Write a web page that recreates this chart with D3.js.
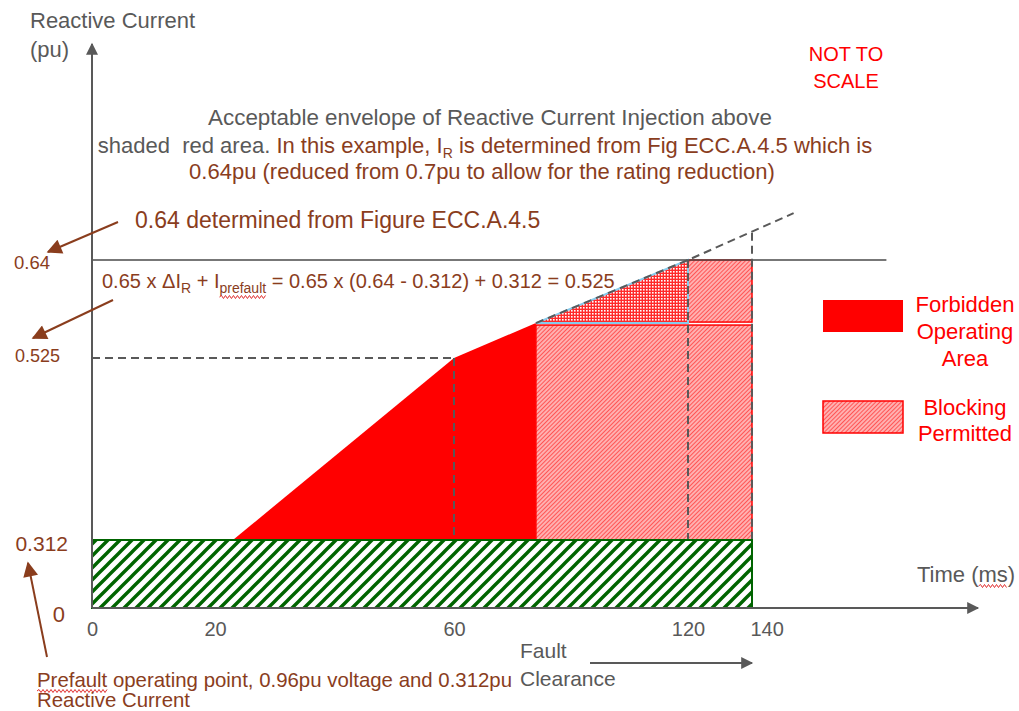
<!DOCTYPE html>
<html>
<head>
<meta charset="utf-8">
<script src="https://cdn.jsdelivr.net/npm/d3@7"></script>
<style>
  html, body { margin: 0; padding: 0; background: #fff; }
  svg { display: block; font-family: "Liberation Sans", Arial, sans-serif; }
</style>
</head>
<body>
<svg id="chart" width="1019" height="711"></svg>
<script>
// ---------------- DATA ----------------
const xTicks = [0, 20, 60, 120, 140];            // time (ms) tick labels
const yTicks = [0, 0.312, 0.525, 0.64];           // reactive current (pu) tick labels

// Forbidden operating area polygon (time ms, current pu)
const forbiddenTime    = [23, 60, 81, 81];
const forbiddenCurrent = [0.312, 0.525, 0.566, 0.312];

// Blocking permitted areas
const blockLowerTime    = [81, 140];
const blockLowerCurrent = [0.312, 0.566];
const blockUpperTime    = [120, 140];
const blockUpperCurrent = [0.566, 0.64];
const blockTriTime      = [81, 120, 120];
const blockTriCurrent   = [0.566, 0.64, 0.566];

// Prefault band
const prefaultTime    = [0, 140];
const prefaultCurrent = [0, 0.312];

// Envelope (dashed extension line)
const envelopeTime    = [81, 120, 153];
const envelopeCurrent = [0.566, 0.64, 0.695];

// Vertical guide lines (dashed)
const guideTime   = [60, 120, 140];
const guideTop    = [0.525, 0.64, 0.672];
const guideBottom = 0.312;

// Horizontal 0.525 guide and 0.64 rating line
const guide525Time = [0, 60];
const ratingLevel  = 0.64;
const ratingTime   = [0, 182];

// ---------------- LAYOUT ----------------
const W = 1019, H = 711;
const xRangeStops = [92, 215, 454, 688, 752];
const yRangeStops = [608, 540, 358, 260];

const x = d3.scaleLinear().domain(xTicks).range(xRangeStops);
const y = d3.scaleLinear().domain(yTicks).range(yRangeStops);

const BROWN = "#8a3d1d", GRAY = "#595959", RED = "#ff0000", GREEN = "#006400";
const FONT = 22;

const svg = d3.select("#chart");
const defs = svg.append("defs");

// pink hatch
const ph = defs.append("pattern").attr("id", "pinkHatch").attr("patternUnits", "userSpaceOnUse")
  .attr("width", 3).attr("height", 3).attr("patternTransform", "rotate(45)");
ph.append("rect").attr("width", 3).attr("height", 3).attr("fill", "#ffb0b0");
ph.append("line").attr("x1", 0).attr("y1", 0).attr("x2", 0).attr("y2", 3)
  .attr("stroke", "#ff2e2e").attr("stroke-width", 1.4);

// green hatch (unrotated tile for crisp lines)
const GS = 12;
const gh = defs.append("pattern").attr("id", "greenHatch").attr("patternUnits", "userSpaceOnUse")
  .attr("width", GS).attr("height", GS);
gh.append("rect").attr("width", GS).attr("height", GS).attr("fill", "#fff");
gh.append("path")
  .attr("d", `M-3,3 L3,-3 M0,${GS} L${GS},0 M${GS - 3},${GS + 3} L${GS + 3},${GS - 3}`)
  .attr("stroke", GREEN).attr("stroke-width", 3.4);

// dotted
const dp = defs.append("pattern").attr("id", "dotted").attr("patternUnits", "userSpaceOnUse")
  .attr("width", 3).attr("height", 3);
dp.append("rect").attr("width", 3).attr("height", 3).attr("fill", "#ff2a2a");
dp.append("rect").attr("x", 1).attr("y", 1).attr("width", 1.6).attr("height", 1.6).attr("fill", "#ffffff");

// arrow markers
function marker(id, color, w, h) {
  defs.append("marker").attr("id", id).attr("viewBox", "0 0 10 10")
    .attr("refX", 9).attr("refY", 5).attr("markerWidth", w).attr("markerHeight", h)
    .attr("markerUnits", "userSpaceOnUse").attr("orient", "auto")
    .append("path").attr("d", "M0,0 L10,5 L0,10 Z").attr("fill", color);
}
marker("arrGray", GRAY, 16, 12);
marker("arrBrown", BROWN, 18, 15);

// ---------------- MARKS ----------------
const pts = (ts, cs) => ts.map((t, i) => [x(t), y(cs[i])]);

// Forbidden polygon
svg.append("polygon").attr("points", pts(forbiddenTime, forbiddenCurrent).join(" "))
  .attr("fill", RED);

// Blocking lower rect
svg.append("rect")
  .attr("x", x(blockLowerTime[0])).attr("y", y(blockLowerCurrent[1]) + 2)
  .attr("width", x(blockLowerTime[1]) - x(blockLowerTime[0]))
  .attr("height", y(blockLowerCurrent[0]) - y(blockLowerCurrent[1]) - 2)
  .attr("fill", "url(#pinkHatch)").attr("stroke", RED).attr("stroke-width", 1.5);

// Blocking upper rect
svg.append("rect")
  .attr("x", x(blockUpperTime[0])).attr("y", y(blockUpperCurrent[1]))
  .attr("width", x(blockUpperTime[1]) - x(blockUpperTime[0]))
  .attr("height", y(blockUpperCurrent[0]) - y(blockUpperCurrent[1]) - 1)
  .attr("fill", "url(#pinkHatch)").attr("stroke", RED).attr("stroke-width", 1.5);

// Blocking triangle
svg.append("polygon").attr("points", pts(blockTriTime, blockTriCurrent).join(" "))
  .attr("fill", "url(#dotted)").attr("stroke", "#86cbec").attr("stroke-width", 2);

// Rating line 0.64
svg.append("line").attr("x1", x(ratingTime[0])).attr("x2", x(ratingTime[1]))
  .attr("y1", y(ratingLevel)).attr("y2", y(ratingLevel))
  .attr("stroke", "#4a4a4a").attr("stroke-width", 1.5);

// dashed guides
const dashStyle = sel => sel.attr("stroke", GRAY).attr("stroke-width", 2).attr("stroke-dasharray", "8,5").attr("fill", "none");
svg.append("path").attr("d", d3.line()(pts(envelopeTime, envelopeCurrent))).call(dashStyle);
guideTime.forEach((t, i) => {
  svg.append("line").attr("x1", x(t)).attr("x2", x(t))
    .attr("y1", y(guideTop[i])).attr("y2", y(guideBottom)).call(dashStyle);
});
svg.append("line").attr("x1", x(guide525Time[0])).attr("x2", x(guide525Time[1]))
  .attr("y1", y(0.525)).attr("y2", y(0.525)).call(dashStyle);

// Prefault band
svg.append("rect")
  .attr("x", x(prefaultTime[0])).attr("y", y(prefaultCurrent[1]))
  .attr("width", x(prefaultTime[1]) - x(prefaultTime[0]))
  .attr("height", y(prefaultCurrent[0]) - y(prefaultCurrent[1]))
  .attr("fill", "url(#greenHatch)").attr("stroke", GREEN).attr("stroke-width", 2);

// Axes lines with arrows
svg.append("line").attr("x1", x(0)).attr("y1", y(0)).attr("x2", 978).attr("y2", y(0))
  .attr("stroke", GRAY).attr("stroke-width", 2).attr("marker-end", "url(#arrGray)");
svg.append("line").attr("x1", x(0)).attr("y1", y(0)).attr("x2", x(0)).attr("y2", 44)
  .attr("stroke", GRAY).attr("stroke-width", 2).attr("marker-end", "url(#arrGray)");

// X axis tick labels
const xAxis = svg.append("g").attr("transform", `translate(0,${y(0)})`)
  .call(d3.axisBottom(x).tickValues(xTicks).tickSize(0).tickPadding(14).tickFormat(d3.format("d")));
xAxis.select(".domain").remove();
xAxis.selectAll("text").attr("font-size", 20).attr("fill", GRAY).attr("font-family", "Liberation Sans, Arial, sans-serif");
xAxis.selectAll(".tick").filter(d => d === 140).select("text").attr("text-anchor", "start").attr("dx", -2);

// Y axis tick labels (scattered positions as in reference)
const yLabelX = { 0: 65, 0.312: 68, 0.525: 60, 0.64: 50 };
const yLabelSize = { 0: 22, 0.312: 21, 0.525: 18, 0.64: 18.5 };
const yLabelDy = { 0: 14, 0.312: 11, 0.525: 4, 0.64: 9 };
const yAxis = svg.append("g")
  .call(d3.axisLeft(y).tickValues(yTicks).tickSize(0).tickFormat(d => d === 0 ? "0" : String(d)));
yAxis.select(".domain").remove();
yAxis.selectAll(".tick").attr("transform", d => `translate(${yLabelX[d]},${y(d)})`);
yAxis.selectAll("text").attr("x", 0).attr("dy", d => yLabelDy[d])
  .attr("font-size", d => yLabelSize[d]).attr("fill", BROWN)
  .attr("font-family", "Liberation Sans, Arial, sans-serif").attr("text-anchor", "end");

// ---------------- TEXT ----------------
function txt(s, px, py, opts = {}) {
  return svg.append("text").attr("x", px).attr("y", py)
    .attr("font-size", opts.size || FONT).attr("fill", opts.color || GRAY)
    .attr("text-anchor", opts.anchor || "start").style("white-space", "pre").text(s);
}
function squiggle(textSel, i0, i1, off = 4) {
  const n = textSel.node();
  const a = n.getStartPositionOfChar(i0), b = n.getEndPositionOfChar(i1);
  const yy = a.y + off;
  let d = `M${a.x},${yy}`;
  let up = true;
  for (let xx = a.x + 2; xx <= b.x; xx += 2) { d += ` L${xx},${yy + (up ? -1.5 : 1.5)}`; up = !up; }
  svg.append("path").attr("d", d).attr("fill", "none").attr("stroke", "#e03030").attr("stroke-width", 1);
}

txt("Reactive Current", 30, 28);
txt("(pu)", 30, 57);

txt("NOT TO", 846, 61, { color: RED, anchor: "middle", size: 20 });
txt("SCALE", 846, 88, { color: RED, anchor: "middle", size: 20 });

txt("Acceptable envelope of Reactive Current Injection above", 490, 125, { anchor: "middle", size: 22.4 });
const l2 = svg.append("text").attr("x", 485).attr("y", 153).attr("font-size", FONT)
  .attr("text-anchor", "middle").style("white-space", "pre");
l2.append("tspan").attr("fill", GRAY).text("shaded  red area. ");
l2.append("tspan").attr("fill", BROWN).text("In this example, I");
l2.append("tspan").attr("fill", BROWN).attr("font-size", 14).attr("dy", 5).text("R");
l2.append("tspan").attr("fill", BROWN).attr("dy", -5).text(" is determined from Fig ECC.A.4.5 which is");
txt("0.64pu (reduced from 0.7pu to allow for the rating reduction)", 482, 179, { anchor: "middle", color: BROWN });

txt("0.64 determined from Figure ECC.A.4.5", 135, 228, { color: BROWN, size: 23 });

const f = svg.append("text").attr("x", 102).attr("y", 288).attr("font-size", 20).attr("fill", BROWN)
  .style("white-space", "pre");
f.append("tspan").text("0.65 x \u0394I");
f.append("tspan").attr("font-size", 14).attr("dy", 5).text("R");
f.append("tspan").attr("dy", -5).text(" + I");
f.append("tspan").attr("font-size", 14).attr("dy", 5).text("prefault");
f.append("tspan").attr("dy", -5).text(" = 0.65 x (0.64 - 0.312) + 0.312 = 0.525");
squiggle(f, 14, 21, 4);

const tm = txt("Time (ms)", 917, 582, { size: 22 });
squiggle(tm, 6, 7);

txt("Fault", 520, 658, { size: 21 });
txt("Clearance", 520, 686, { size: 21 });
svg.append("line").attr("x1", 590).attr("y1", 663).attr("x2", x(140)).attr("y2", 663)
  .attr("stroke", GRAY).attr("stroke-width", 2).attr("marker-end", "url(#arrGray)");

const pf = txt("Prefault operating point, 0.96pu voltage and 0.312pu", 37, 687, { color: BROWN, size: 20.4 });
squiggle(pf, 0, 7);
txt("Reactive Current", 37, 707, { color: BROWN, size: 20.4 });

// Brown annotation arrows
const brownArrow = (x1, y1, x2, y2) => svg.append("line").attr("x1", x1).attr("y1", y1)
  .attr("x2", x2).attr("y2", y2).attr("stroke", BROWN).attr("stroke-width", 2)
  .attr("marker-end", "url(#arrBrown)");
brownArrow(118, 222, 48, 252);
brownArrow(113, 300, 33, 338);
brownArrow(47, 657, 28, 563);

// Legend
svg.append("rect").attr("x", 823).attr("y", 300).attr("width", 80).attr("height", 32).attr("fill", RED);
svg.append("rect").attr("x", 823).attr("y", 401).attr("width", 80).attr("height", 32)
  .attr("fill", "url(#pinkHatch)").attr("stroke", RED).attr("stroke-width", 1.5);
txt("Forbidden", 965, 312, { color: RED, anchor: "middle" });
txt("Operating", 965, 339, { color: RED, anchor: "middle" });
txt("Area", 965, 366, { color: RED, anchor: "middle" });
txt("Blocking", 965, 415, { color: RED, anchor: "middle" });
txt("Permitted", 965, 441, { color: RED, anchor: "middle" });
</script>
</body>
</html>
